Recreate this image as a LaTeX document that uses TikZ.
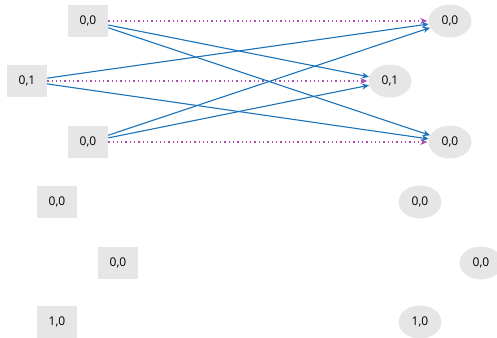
\documentclass[tikz,border=0pt]{standalone}
\usepackage{fontspec}
\setmainfont{Open Sans}
\usetikzlibrary{arrows.meta,shapes.geometric}
\definecolor{boxgray}{HTML}{E6E6E6}
\definecolor{linkblue}{HTML}{1A73BA}
\definecolor{linkpurple}{HTML}{AD4DB0}
\tikzset{
  src/.style={rectangle, fill=boxgray, minimum width=40pt, minimum height=32pt, inner sep=0pt, font=\fontsize{12}{13}\selectfont},
  dst/.style={ellipse, fill=boxgray, minimum width=43pt, minimum height=33pt, inner sep=0pt, font=\fontsize{12}{13}\selectfont},
  link/.style={draw=linkblue, line width=1.1pt, -{Stealth[length=7pt,width=6pt]}},
  same/.style={draw=linkpurple, line width=1.3pt, dash pattern=on 1.3pt off 3pt, -{Stealth[length=7pt,width=6pt,fill=linkpurple]}, shorten >=1pt},
}
\begin{document}
\begin{tikzpicture}[x=1pt,y=-1pt]
  \useasboundingbox (0,0) rectangle (497,337);
  \begin{scope}
  \clip (0,0) rectangle (497,337);
  % left column: rectangles
  \node[src] (a1) at (88,21) {0,0};
  \node[src] (a2) at (27,81) {0,1};
  \node[src] (a3) at (88,142) {0,0};
  \node[src] (a4) at (57,202) {0,0};
  \node[src] (a5) at (118,263) {0,0};
  \node[src] (a6) at (57,322) {1,0};
  % right column: ellipses
  \node[dst] (b1) at (450,21) {0,0};
  \node[dst] (b2) at (390,81) {0,1};
  \node[dst] (b3) at (450,142) {0,0};
  \node[dst] (b4) at (420,202) {0,0};
  \node[dst] (b5) at (481,263) {0,0};
  \node[dst] (b6) at (420,322) {1,0};
  % identity links
  \draw[same] (a1) -- (b1);
  \draw[same] (a2) -- (b2);
  \draw[same] (a3) -- (b3);
  % cross links
  \draw[link] (a1) -- (b2);
  \draw[link] (a1) -- (b3);
  \draw[link] (a2) -- (b1);
  \draw[link] (a2) -- (b3);
  \draw[link] (a3) -- (b1);
  \draw[link] (a3) -- (b2);
  \end{scope}
\end{tikzpicture}
\end{document}
